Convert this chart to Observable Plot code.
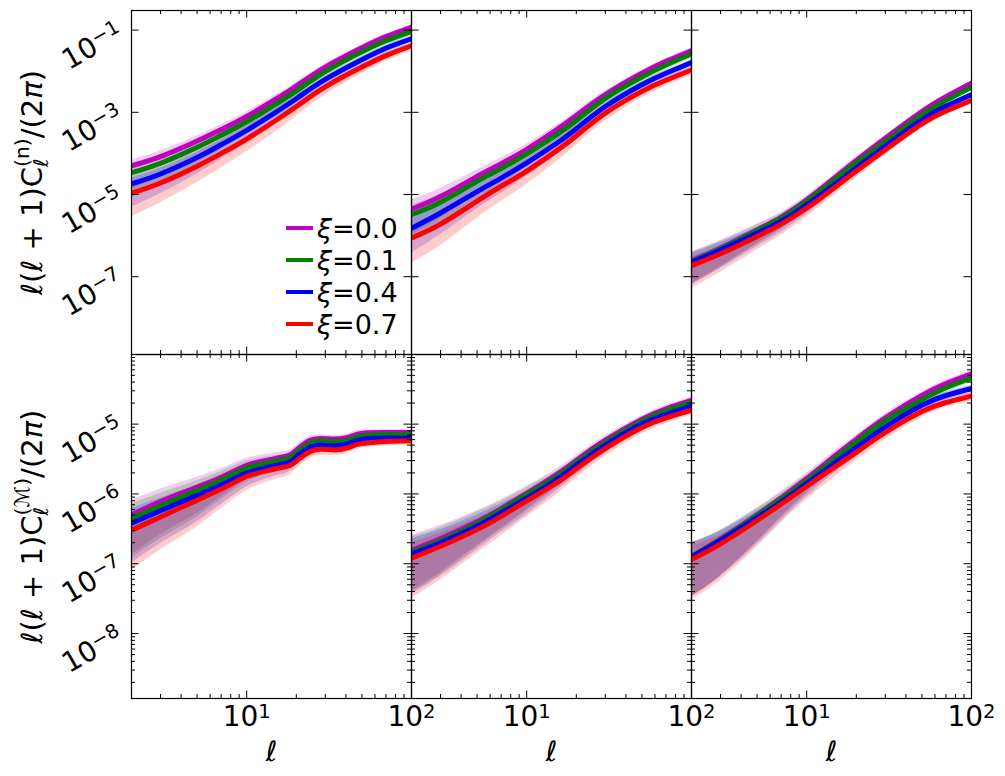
<!DOCTYPE html>
<html><head><meta charset="utf-8">
<script src="https://cdn.jsdelivr.net/npm/d3@7"></script>
<script src="https://cdn.jsdelivr.net/npm/@observablehq/plot@0.6"></script>
<style>
body{margin:0;background:#fff;}
#fig{position:relative;width:1005px;height:776px;font-family:"DejaVu Sans",sans-serif;background:#fff;overflow:hidden;}
#fig svg{position:absolute;}
.legend{position:absolute;left:286px;top:212px;font-size:27px;color:#000;font-family:"DejaVu Sans",sans-serif;}
.legend .row{display:flex;align-items:center;height:32px;white-space:nowrap;}
.legend .sw{width:27px;height:4px;margin-right:4px;}
.legend i{font-style:italic;}
</style></head><body><div id="fig"></div><script>
// multipoles ℓ
const ell = [2, 3, 5, 7, 10, 15, 20, 30, 50, 70, 100];
const ellBump = [2, 3, 5, 7, 10, 15, 18.4, 21, 24.4, 28, 34, 41, 47, 54, 70, 100];
const xiLabels = ["0.0", "0.1", "0.4", "0.7"];
const colors = ["#bf00bf", "#008000", "#0000ff", "#ff0000"];

// log10[ℓ(ℓ+1)C_ℓ^(n)/(2π)] — top row, three panels
const n1_00 = [-4.30,-4.08,-3.70,-3.42,-3.10,-2.68,-2.36,-1.90,-1.43,-1.16,-0.93];
const n1_01 = [-4.47,-4.24,-3.85,-3.56,-3.23,-2.80,-2.48,-2.01,-1.53,-1.26,-1.03];
const n1_04 = [-4.74,-4.50,-4.10,-3.79,-3.44,-3.00,-2.67,-2.20,-1.72,-1.44,-1.21];
const n1_07 = [-4.97,-4.72,-4.31,-4.00,-3.65,-3.20,-2.86,-2.38,-1.90,-1.62,-1.38];
const n1_up = [0.15,0.14,0.13,0.12,0.11,0.10,0.09,0.08,0.07,0.07,0.06];
const n1_dn = [0.57,0.48,0.40,0.35,0.31,0.27,0.24,0.20,0.16,0.14,0.12];

const n2_00 = [-5.36,-5.05,-4.56,-4.25,-3.90,-3.44,-3.08,-2.57,-2.05,-1.76,-1.50];
const n2_01 = [-5.49,-5.19,-4.68,-4.37,-4.01,-3.56,-3.20,-2.66,-2.14,-1.85,-1.58];
const n2_04 = [-5.82,-5.45,-4.93,-4.60,-4.23,-3.77,-3.40,-2.86,-2.33,-2.05,-1.79];
const n2_07 = [-6.06,-5.72,-5.16,-4.80,-4.43,-3.95,-3.57,-3.02,-2.49,-2.22,-1.97];
const n2_up = [0.23,0.20,0.16,0.14,0.12,0.11,0.10,0.09,0.08,0.07,0.07];
const n2_dn = [0.61,0.52,0.42,0.37,0.32,0.27,0.24,0.20,0.16,0.14,0.12];

const n3_00 = [-6.61,-6.30,-5.86,-5.55,-5.13,-4.57,-4.17,-3.63,-2.98,-2.62,-2.29];
const n3_01 = [-6.63,-6.32,-5.88,-5.58,-5.17,-4.62,-4.23,-3.71,-3.06,-2.71,-2.39];
const n3_04 = [-6.65,-6.35,-5.94,-5.65,-5.25,-4.73,-4.35,-3.82,-3.18,-2.85,-2.57];
const n3_07 = [-6.73,-6.44,-6.02,-5.72,-5.33,-4.81,-4.43,-3.91,-3.28,-2.97,-2.71];
const n3_up = [0.22,0.18,0.14,0.12,0.10,0.09,0.08,0.07,0.06,0.06,0.05];
const n3_dn = [0.55,0.45,0.33,0.27,0.22,0.18,0.16,0.13,0.11,0.10,0.09];

// log10[ℓ(ℓ+1)C_ℓ^(M)/(2π)] — bottom row
const m1_00 = [-6.30,-6.11,-5.90,-5.76,-5.59,-5.49,-5.44,-5.33,-5.23,-5.205,-5.215,-5.19,-5.143,-5.124,-5.12,-5.12];
const m1_01 = [-6.35,-6.17,-5.95,-5.80,-5.63,-5.53,-5.48,-5.37,-5.27,-5.24,-5.25,-5.23,-5.18,-5.16,-5.15,-5.15];
const m1_04 = [-6.42,-6.24,-6.02,-5.87,-5.70,-5.59,-5.54,-5.43,-5.33,-5.30,-5.31,-5.28,-5.23,-5.21,-5.20,-5.20];
const m1_07 = [-6.52,-6.33,-6.09,-5.93,-5.75,-5.64,-5.59,-5.49,-5.39,-5.36,-5.37,-5.34,-5.29,-5.27,-5.25,-5.24];
const m1_up = [0.21,0.18,0.14,0.12,0.10,0.08,0.07,0.06,0.06,0.05,0.05,0.05,0.05,0.04,0.04,0.04];
const m1_dn = [0.57,0.47,0.38,0.28,0.20,0.15,0.13,0.11,0.10,0.09,0.08,0.07,0.07,0.06,0.06,0.06];

const m2_00 = [-6.81,-6.64,-6.40,-6.21,-5.99,-5.73,-5.52,-5.23,-4.93,-4.78,-4.66];
const m2_01 = [-6.83,-6.67,-6.42,-6.23,-6.01,-5.76,-5.55,-5.26,-4.96,-4.81,-4.69];
const m2_04 = [-6.86,-6.70,-6.46,-6.27,-6.06,-5.80,-5.59,-5.30,-5.00,-4.86,-4.74];
const m2_07 = [-6.92,-6.75,-6.51,-6.32,-6.10,-5.85,-5.64,-5.35,-5.05,-4.91,-4.80];
const m2_up = [0.22,0.19,0.16,0.13,0.10,0.08,0.07,0.06,0.05,0.05,0.05];
const m2_dn = [0.58,0.48,0.34,0.28,0.23,0.17,0.14,0.11,0.09,0.08,0.07];

const m3_00 = [-6.90,-6.645,-6.30,-6.055,-5.78,-5.445,-5.215,-4.91,-4.59,-4.42,-4.28];
const m3_01 = [-6.90,-6.655,-6.31,-6.075,-5.81,-5.485,-5.255,-4.95,-4.65,-4.48,-4.34];
const m3_04 = [-6.90,-6.665,-6.34,-6.115,-5.85,-5.545,-5.335,-5.04,-4.73,-4.59,-4.49];
const m3_07 = [-6.94,-6.715,-6.38,-6.145,-5.89,-5.605,-5.405,-5.12,-4.82,-4.69,-4.60];
const m3_up = [0.20,0.13,0.10,0.09,0.08,0.07,0.06,0.06,0.05,0.05,0.05];
const m3_dn = [0.57,0.52,0.38,0.27,0.19,0.14,0.12,0.10,0.08,0.07,0.07];

// axes
const xMajor = [10, 100];
const xMinor = [2,3,4,5,6,7,8,9,20,30,40,50,60,70,80,90];
const xTickLabels = ["10^1", "10^2"];
const yTopDomain = [10 ** -8.893, 10 ** -0.523];
const yTopMajor = [1e-1, 1e-3, 1e-5, 1e-7];
const yTopLabels = ["10^−1", "10^−3", "10^−5", "10^−7"];
const yBotDomain = [10 ** -8.93, 10 ** -4.003];
const yBotMajor = [1e-5, 1e-6, 1e-7, 1e-8];
const yBotLabels = ["10^−5", "10^−6", "10^−7", "10^−8"];
const yBotMinor = [];
for (const e of [-9, -8, -7, -6, -5]) for (const m of [2,3,4,5,6,7,8,9]) {
  const v = m * 10 ** e; if (v > yBotDomain[0] && v < yBotDomain[1]) yBotMinor.push(v);
}
const titleN = "ℓ(ℓ + 1)C_ℓ^(n)/(2π)";
const titleM = "ℓ(ℓ + 1)C_ℓ^(ℳ)/(2π)";

const W = 280, H = 344;
const lefts = [131, 411, 691];
const tops = [10, 354];
const FS = 28;

function panel({ells, series, up, dn, row, col, curve}) {
  const yDomain = row === 0 ? yTopDomain : yBotDomain;
  const yMajor = row === 0 ? yTopMajor : yBotMajor;
  const yLabels = row === 0 ? yTopLabels : yBotLabels;
  const sets = series.map((vals, k) => vals.map((v, i) => ({
    ell: ells[i], xi: xiLabels[k], v: 10 ** v, lo: 10 ** (v - dn[i]), hi: 10 ** (v + up[i])
  })));
  const marks = [];
  sets.forEach((d, k) => marks.push(Plot.areaY(d, {x: "ell", y1: "lo", y2: "hi", fill: colors[k], fillOpacity: 0.2, curve, clip: true})));
  sets.forEach((d, k) => marks.push(Plot.line(d, {x: "ell", y: "v", stroke: colors[k], strokeWidth: 5, curve, clip: true})));
  const tk = {stroke: "#000", strokeWidth: 1};
  marks.push(
    Plot.ruleX(xMajor, {...tk, insetTop: H - 7.5}),
    Plot.ruleX(xMinor, {...tk, insetTop: H - 4}),
    Plot.ruleX(xMajor, {...tk, insetBottom: H - 7.5}),
    Plot.ruleX(xMinor, {...tk, insetBottom: H - 4}),
    Plot.ruleY(yMajor, {...tk, insetRight: W - 7.5}),
    Plot.ruleY(yMajor, {...tk, insetLeft: W - 7.5})
  );
  if (row === 1) {
    marks.push(
      Plot.ruleY(yBotMinor, {...tk, insetRight: W - 4}),
      Plot.ruleY(yBotMinor, {...tk, insetLeft: W - 4}),
      Plot.text(xMajor, {x: d => d, text: (d, i) => xTickLabels[i], frameAnchor: "bottom", textAnchor: "middle", lineAnchor: "middle", dy: 19, fontSize: FS, fill: "#000"}),
      Plot.text(["ℓ"], {frameAnchor: "bottom", textAnchor: "middle", lineAnchor: "middle", dy: 54, fontSize: FS, fontStyle: "italic", fill: "#000"})
    );
  }
  if (col === 0) {
    marks.push(
      Plot.text(yMajor, {y: d => d, text: (d, i) => yLabels[i], frameAnchor: "left", textAnchor: "end", lineAnchor: "middle", dx: -11, rotate: -30, fontSize: FS, fill: "#000"}),
      Plot.text([row === 0 ? titleN : titleM], {frameAnchor: "left", textAnchor: "middle", lineAnchor: "middle", dx: -99, rotate: -90, fontSize: 29, fill: "#000"})
    );
  }
  marks.push(Plot.frame({stroke: "#000", strokeWidth: 1.2}));
  const svg = Plot.plot({
    width: W, height: H, margin: 0,
    x: {type: "log", domain: [2, 100], axis: null},
    y: {type: "log", domain: yDomain, axis: null},
    style: {overflow: "visible", background: "transparent", fontFamily: "DejaVu Sans", maxWidth: "none"},
    marks
  });
  svg.style.left = lefts[col] + "px";
  svg.style.top = tops[row] + "px";
  return svg;
}

const fig = document.getElementById("fig");
const cfgs = [
  {ells: ell, series: [n1_00, n1_01, n1_04, n1_07], up: n1_up, dn: n1_dn, row: 0, col: 0, curve: "natural"},
  {ells: ell, series: [n2_00, n2_01, n2_04, n2_07], up: n2_up, dn: n2_dn, row: 0, col: 1, curve: "natural"},
  {ells: ell, series: [n3_00, n3_01, n3_04, n3_07], up: n3_up, dn: n3_dn, row: 0, col: 2, curve: "natural"},
  {ells: ellBump, series: [m1_00, m1_01, m1_04, m1_07], up: m1_up, dn: m1_dn, row: 1, col: 0, curve: "monotone-x"},
  {ells: ell, series: [m2_00, m2_01, m2_04, m2_07], up: m2_up, dn: m2_dn, row: 1, col: 1, curve: "natural"},
  {ells: ell, series: [m3_00, m3_01, m3_04, m3_07], up: m3_up, dn: m3_dn, row: 1, col: 2, curve: "natural"}
];
const svgs = cfgs.map(panel);
svgs.forEach(s => fig.appendChild(s));

// mathtext-like formatting of texts
function buildTitle(el, sup) {
  const fs = 29;
  const t = d3.select(el); t.text(null);
  const add = (s, o = {}) => {
    const sp = t.append("tspan").text(s);
    if (o.it) sp.attr("font-style", "italic");
    if (o.size) sp.attr("font-size", o.size);
    if (o.dy) sp.attr("dy", o.dy);
    if (o.dx) sp.attr("dx", o.dx);
    return sp;
  };
  add("ℓ", {it: true}); add("("); add("ℓ", {it: true}); add(" + 1)C");
  const sub = add("ℓ", {it: true, size: fs * 0.7, dy: 0.22 * fs});
  const subW = sub.node().getComputedTextLength();
  add(sup, {size: fs * 0.7, dy: -(0.22 + 0.45) * fs, dx: -subW});
  add("/(2", {dy: 0.45 * fs}); add("π", {it: true}); add(")");
}
svgs.forEach(s => d3.select(s).selectAll("text").each(function() {
  const txt = this.textContent;
  if (txt === titleN) return buildTitle(this, "(n)");
  if (txt === titleM) return buildTitle(this, "(ℳ)");
  if (txt.includes("^")) {
    const [b, e] = txt.split("^");
    const t = d3.select(this); t.text(b);
    t.append("tspan").attr("font-size", "70%").attr("dy", "-0.42em").text(e);
  }
}));

// legend (inside the top-left panel)
const leg = document.createElement("div");
leg.className = "legend";
leg.innerHTML = xiLabels.map((x, k) => `<div class="row"><span class="sw" style="background:${colors[k]}"></span><span><i>ξ</i>=${x}</span></div>`).join("");
fig.appendChild(leg);
</script></body></html>
